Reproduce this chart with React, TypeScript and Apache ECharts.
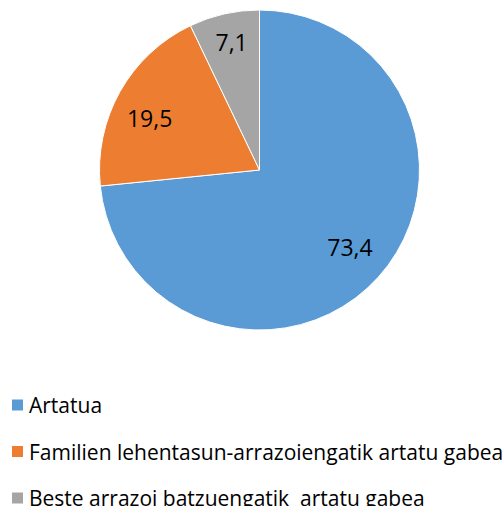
import React, { useEffect, useRef } from "react";
import * as echarts from "echarts";

const categories = [
  "Artatua",
  "Familien lehentasun-arrazoiengatik artatu gabea",
  "Beste arrazoi batzuengatik  artatu gabea",
];
const values = [73.4, 19.5, 7.1];
const colors = ["#5B9BD5", "#ED7D31", "#A5A5A5"];

const FONT = "'Open Sans', sans-serif";

export default function App() {
  const ref = useRef<HTMLDivElement>(null);
  useEffect(() => {
    if (!ref.current) return;
    const chart = echarts.init(ref.current, undefined, { renderer: "svg" });
    const labelOffsets = [
      [-3, -8],
      [0, 10],
      [0, -5],
    ];
    const data = categories.map((name, i) => ({
      name,
      value: values[i],
      itemStyle: { color: colors[i] },
    }));
    const fmt = (p: any) => String(p.value).replace(".", ",");
    chart.setOption({
      animation: false,
      backgroundColor: "#ffffff",
      legend: {
        orient: "vertical",
        left: 10,
        top: 394.5,
        height: 200,
        padding: 0,
        icon: "rect",
        itemWidth: 13,
        itemHeight: 13,
        itemGap: 25.5,
        textStyle: {
          fontFamily: FONT,
          fontSize: 21,
          lineHeight: 20,
          color: "#000000",
          padding: [0, 0, 0, 0],
        },
        data: categories,
      },
      series: [
        {
          type: "pie",
          center: [259.5, 170],
          radius: [0, 160],
          startAngle: 90,
          clockwise: true,
          data,
          itemStyle: { borderColor: "#ffffff", borderWidth: 1 },
          label: { show: false },
          labelLine: { show: false },
          emphasis: { disabled: true },
          silent: true,
        },
        {
          type: "pie",
          center: [259.5, 170],
          radius: [86, 160],
          startAngle: 90,
          clockwise: true,
          data: data.map((d, i) => ({
            name: d.name,
            value: d.value,
            label: { offset: labelOffsets[i] },
          })),
          itemStyle: { color: "rgba(0,0,0,0)", borderWidth: 0 },
          label: {
            show: true,
            position: "inside",
            formatter: fmt,
            fontFamily: FONT,
            fontSize: 23,
            color: "#000000",
          },
          labelLine: { show: false },
          emphasis: { disabled: true },
          silent: true,
          legendHoverLink: false,
        },
      ],
    });
    return () => chart.dispose();
  }, []);
  return (
    <div
      ref={ref}
      style={{ position: "absolute", left: 0, top: 0, width: 504, height: 506 }}
    />
  );
}
